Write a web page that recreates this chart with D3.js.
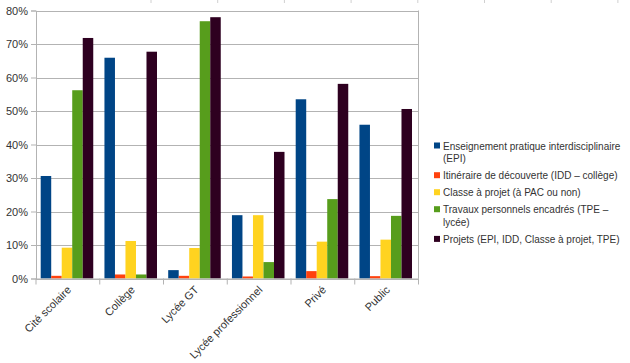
<!DOCTYPE html>
<html><head><meta charset="utf-8">
<script src="https://cdn.jsdelivr.net/npm/d3@7"></script>
<style>body{margin:0;background:#fff}svg{display:block;font-family:"Liberation Sans",Arial,sans-serif}</style>
</head><body>
<svg id="c" width="630" height="363"></svg>
<script>
const categories = ["Cité scolaire","Collège","Lycée GT","Lycée professionnel","Privé","Public"];
const seriesNames = [
  ["Enseignement pratique interdisciplinaire","(EPI)"],
  ["Itinéraire de découverte (IDD – collège)"],
  ["Classe à projet (à PAC ou non)"],
  ["Travaux personnels encadrés (TPE –","lycée)"],
  ["Projets (EPI, IDD, Classe à projet, TPE)"]
];
const colors = ["#004586","#ff420e","#ffd320","#579d1c","#2e0020"];
const epi = [30.6, 65.9, 2.5, 18.9, 53.5, 45.9];
const idd = [0.8, 1.2, 0.8, 0.6, 2.2, 0.7];
const classe = [9.2, 11.2, 9.1, 18.9, 11.0, 11.6];
const tpe = [56.2, 1.2, 76.8, 4.9, 23.7, 18.7];
const projets = [71.8, 67.7, 78.0, 37.8, 58.1, 50.6];
const series = [epi, idd, classe, tpe, projets];
const yTicks = [0,10,20,30,40,50,60,70,80];

const svg = d3.select("#c");
const L = 36, R = 418.5, T = 10.5, B = 278.5;
const x = d3.scaleBand().domain(categories).range([L, R]);
const y = d3.scaleLinear().domain([0, 80]).range([B, T]);
const x1 = d3.scaleBand().domain(d3.range(series.length)).range([4.7, x.bandwidth() - 6.5]);

// top small marks (page ruler remnants)
svg.append("g").selectAll("line").data(d3.range(8)).join("line")
  .attr("x1", i => 151 + i*66.7).attr("x2", i => 151 + i*66.7)
  .attr("y1", 0).attr("y2", 3).attr("stroke", "#d0d0d0");

// grid
svg.append("g").selectAll("line").data(yTicks).join("line")
  .attr("x1", L).attr("x2", R).attr("y1", d => Math.round(y(d))+0.5).attr("y2", d => Math.round(y(d))+0.5)
  .attr("stroke", "#b3b3b3");
svg.append("line").attr("x1", R).attr("x2", R).attr("y1", T).attr("y2", B).attr("stroke", "#b3b3b3");

// bars
const g = svg.append("g");
categories.forEach((c, ci) => {
  series.forEach((s, si) => {
    g.append("rect")
      .attr("x", x(c) + x1(si))
      .attr("width", x1.bandwidth())
      .attr("y", y(s[ci]))
      .attr("height", B - y(s[ci]))
      .attr("fill", colors[si]);
  });
});

// y axis
const ya = d3.axisLeft(y).tickValues(yTicks).tickFormat(d => d + "%").tickSize(5).tickPadding(3);
const yg = svg.append("g").attr("transform", `translate(${L},0)`).call(ya);
yg.select(".domain").attr("stroke", "#b3b3b3");
yg.selectAll(".tick line").attr("stroke", "#b3b3b3");
yg.selectAll("text").attr("font-size", 11).attr("fill", "#333").attr("font-family", "Liberation Sans, Arial, sans-serif");

// x axis
const xa = d3.axisBottom(x).tickSize(0).tickFormat(d => d);
const xg = svg.append("g").attr("transform", `translate(0,${B})`).call(xa);
xg.select(".domain").attr("stroke", "#b3b3b3");
xg.selectAll(".tick line").remove();
xg.selectAll(".tick text")
  .attr("font-size", 11).attr("fill", "#333").attr("font-family", "Liberation Sans, Arial, sans-serif")
  .attr("text-anchor", "end").attr("dy", null).attr("y", 0)
  .attr("transform", "translate(4,12) rotate(-45)");
// category separator ticks
svg.append("g").selectAll("line").data(d3.range(categories.length + 1)).join("line")
  .attr("x1", i => L + i * x.step()).attr("x2", i => L + i * x.step())
  .attr("y1", B).attr("y2", B + 6).attr("stroke", "#b3b3b3");

// legend
const lg = svg.append("g").attr("font-size", 10).attr("fill", "#333");
let ly = 146;
seriesNames.forEach((lines, i) => {
  lg.append("rect").attr("x", 434).attr("y", ly - 3.5).attr("width", 6).attr("height", 6).attr("fill", colors[i]);
  lines.forEach((t, j) => {
    lg.append("text").attr("x", 443).attr("y", ly + j * 12.7).attr("dy", "0.35em").text(t);
  });
  ly += lines.length * 12.7 + 4.3;
});
</script>
</body></html>
